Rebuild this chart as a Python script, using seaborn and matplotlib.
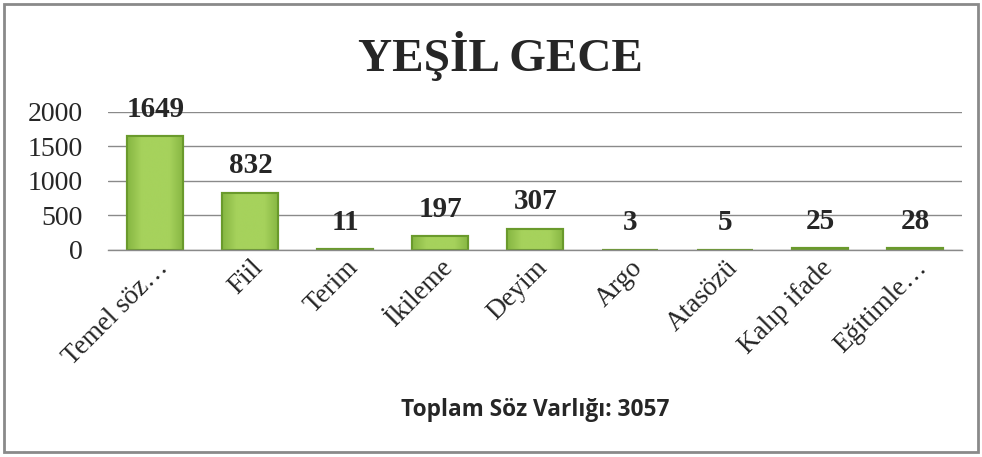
import matplotlib
matplotlib.use("Agg")
import matplotlib.pyplot as plt
import seaborn as sns
import pandas as pd
import numpy as np
from matplotlib.patches import Rectangle
from matplotlib.colors import LinearSegmentedColormap

categories = ["Temel söz…", "Fiil", "Terim", "İkileme", "Deyim", "Argo", "Atasözü", "Kalıp ifade", "Eğitimle…"]
values = [1649, 832, 11, 197, 307, 3, 5, 25, 28]
yticks = [0, 500, 1000, 1500, 2000]
title = "YEŞİL GECE"
xlabel = "Toplam Söz Varlığı: 3057"

sns.set_theme(style="white")
plt.rcParams['font.family'] = ['Liberation Serif', 'DejaVu Serif']

df = pd.DataFrame({"cat": categories, "val": values})

fig = plt.figure(figsize=(9.82, 4.57), dpi=100)
ax = fig.add_axes([0.110, 0.453, 0.870, 0.302])

sns.barplot(data=df, x="cat", y="val", ax=ax, color="#9CCB52", width=0.59,
            edgecolor="#6A9A2C", linewidth=1.5, saturation=1)

cmap = LinearSegmentedColormap.from_list("bev", ["#86B642", "#A6D25C", "#A6D25C", "#A6D25C", "#86B642"])
grad = np.linspace(0, 1, 64).reshape(1, -1)
for p in ax.patches:
    x0, w, h = p.get_x(), p.get_width(), p.get_height()
    im = ax.imshow(grad, cmap=cmap, aspect="auto", extent=(x0, x0 + w, 0, h),
                   zorder=p.get_zorder() + 0.1, interpolation="bicubic")
    im.set_clip_path(p)
    ax.add_patch(Rectangle((x0, 0), w, h, fill=False, edgecolor="#6A9A2C", linewidth=1.5,
                           zorder=p.get_zorder() + 0.2))

ax.set_xlim(-0.5, len(categories) - 0.5)
ax.set_ylim(0, 2000)
ax.set_yticks(yticks)
ax.set_yticklabels([str(t) for t in yticks], fontsize=20)
ax.yaxis.grid(True, color="#8a8a8a", linewidth=1.0)
ax.set_axisbelow(True)
for s in ["left", "right", "top"]:
    ax.spines[s].set_visible(False)
ax.spines["bottom"].set_color("#8a8a8a")
ax.spines["bottom"].set_linewidth(1.0)
ax.tick_params(axis="y", length=0, pad=18)
ax.tick_params(axis="x", length=0, pad=4)
ax.set_xticks(range(len(categories)))
ax.set_xticklabels(categories, rotation=45, ha="right", rotation_mode="anchor", fontsize=19.5)
ax.set_ylabel("")
ax.set_xlabel("")

fig.text(535 / 982, 1 - 410 / 457, xlabel, ha="center", va="center", fontsize=16.3, fontweight="bold",
         family=["Open Sans", "DejaVu Sans"])

for p, v in zip(ax.patches[:len(values)], values):
    ax.annotate(str(v), (p.get_x() + p.get_width() / 2, p.get_height()),
                xytext=(0, 14), textcoords="offset points", ha="center", va="baseline",
                fontsize=21, fontweight="bold")

fig.text(500 / 982, 1 - 56 / 457, title, ha="center", va="center", fontsize=34, fontweight="bold")

fig.patches.append(Rectangle((0.004, 0.01), 0.992, 0.982, transform=fig.transFigure,
                             fill=False, edgecolor="#8a8a8a", linewidth=2))

fig.savefig("out.png", dpi=100)
